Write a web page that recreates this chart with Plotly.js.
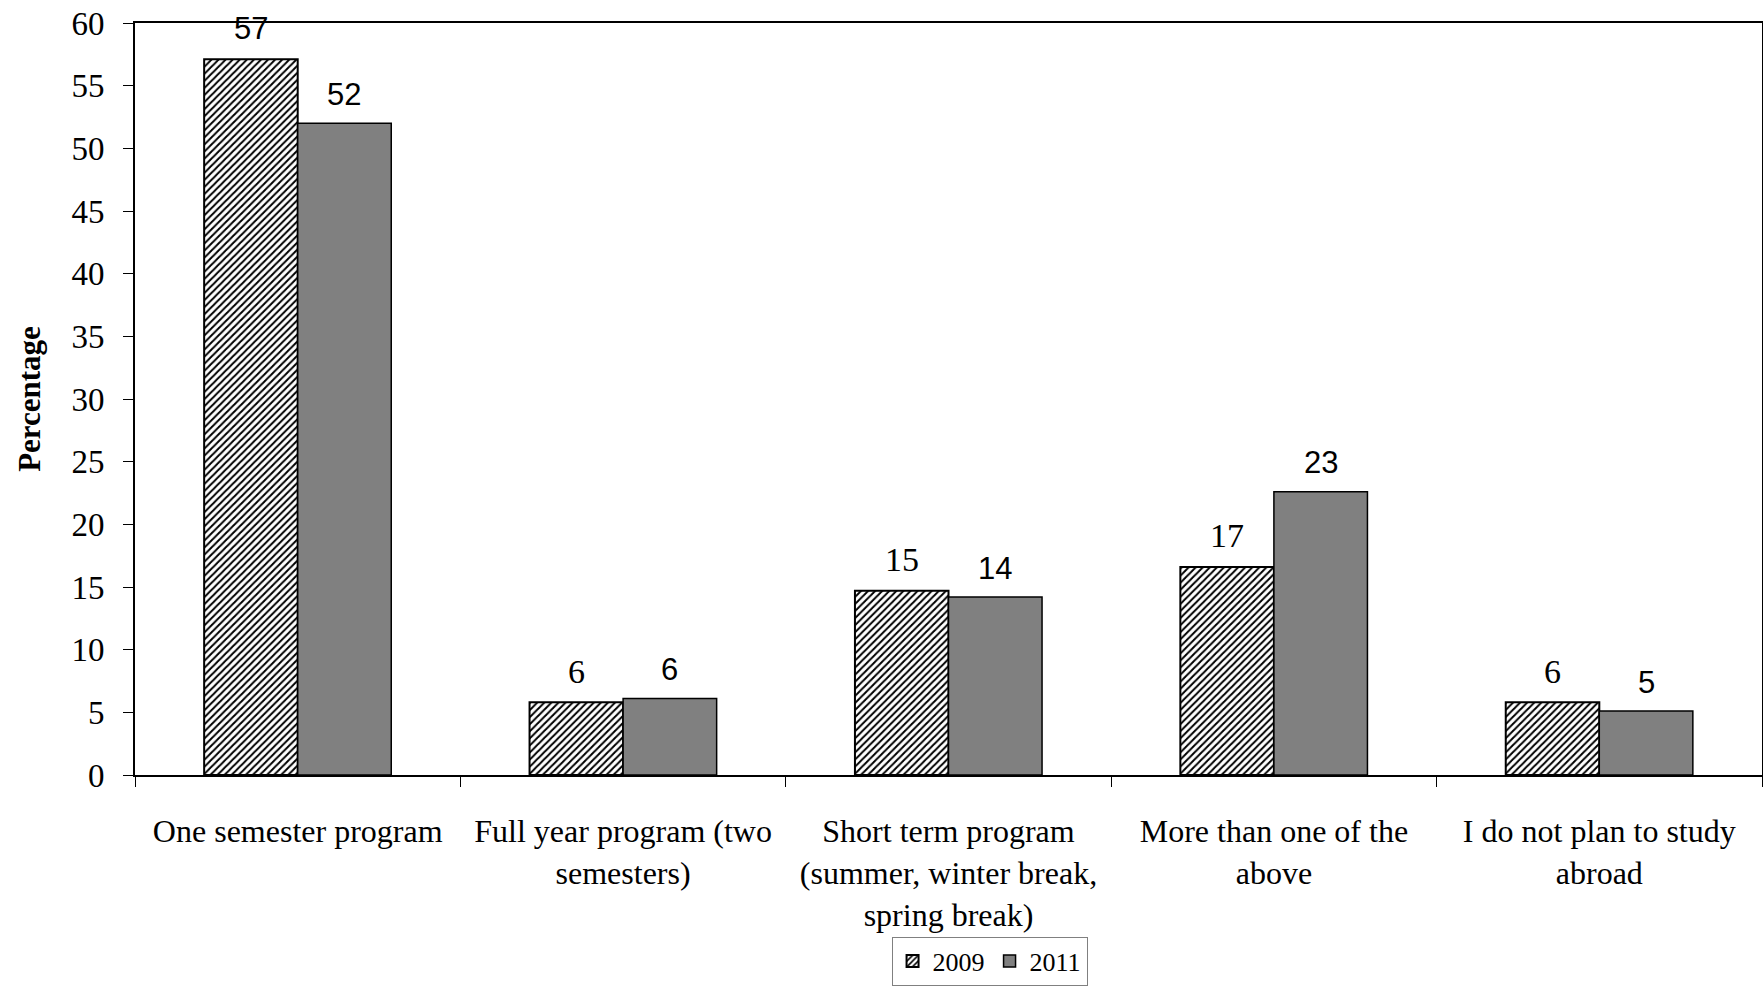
<!DOCTYPE html>
<html>
<head>
<meta charset="utf-8">
<script src="https://cdn.plot.ly/plotly-3.0.1.min.js"></script>
<style>html,body{margin:0;padding:0;background:#fff;}</style>
</head>
<body>
<div id="chart" style="width:1763px;height:987px;"></div>
<script>
const categories = [
  "One semester program",
  "Full year program (two<br>semesters)",
  "Short term program<br>(summer, winter break,<br>spring break)",
  "More than one of the<br>above",
  "I do not plan to study<br>abroad"
];
const values2009 = [57.1, 5.8, 14.7, 16.6, 5.8];
const values2011 = [52.0, 6.1, 14.2, 22.6, 5.1];
const labels2009 = ["57", "6", "15", "17", "6"];
const labels2011 = ["52", "6", "14", "23", "5"];
const yTicks = [0, 5, 10, 15, 20, 25, 30, 35, 40, 45, 50, 55, 60];

const SERIF = "Liberation Serif, DejaVu Serif, serif";
const SANS = "Liberation Sans, Arial, sans-serif";
const label2009Fonts = [SANS, SERIF, SERIF, SERIF, SERIF];

const traces = [
  {
    type: "bar", name: "2009", x: categories, y: values2009,
    marker: {
      color: "#ffffff",
      line: {color: "#000000", width: 2},
      pattern: {shape: "/", fgcolor: "#000000", bgcolor: "#ffffff", size: 5, solidity: 0.4}
    },
    hoverinfo: "none"
  },
  {
    type: "bar", name: "2011", x: categories, y: values2011,
    marker: {color: "#808080", line: {color: "#000000", width: 1.5}},
    hoverinfo: "none"
  }
];

const half = 0.1438;
const annotations = [];
categories.forEach((c, i) => {
  annotations.push({
    x: i - half, y: values2009[i], xref: "x", yref: "y",
    text: labels2009[i], showarrow: false, yanchor: "middle", yshift: 31,
    font: {family: label2009Fonts[i], size: label2009Fonts[i] === SERIF ? 34 : 31, color: "#000"}
  });
  annotations.push({
    x: i + half, y: values2011[i], xref: "x", yref: "y",
    text: labels2011[i], showarrow: false, yanchor: "middle", yshift: 29,
    font: {family: SANS, size: 31, color: "#000"}
  });
});

const layout = {
  width: 1763, height: 987,
  margin: {l: 135, r: 1, t: 23, b: 210},
  paper_bgcolor: "#fff", plot_bgcolor: "#fff",
  barmode: "group", bargap: 0.425, bargroupgap: 0,
  showlegend: true,
  legend: {
    orientation: "h", x: 0.465, xanchor: "left", y: -0.215, yanchor: "top",
    bordercolor: "#808080", borderwidth: 1,
    font: {family: SERIF, size: 26, color: "#000"},
    itemwidth: 30, tracegroupgap: 0
  },
  xaxis: {
    type: "category",
    showline: true, linecolor: "#000", linewidth: 2, mirror: true,
    ticks: "outside", tickson: "boundaries", ticklen: 10, tickcolor: "#000", tickwidth: 1,
    tickfont: {family: SERIF, size: 32, color: "#000"},
    ticklabelstandoff: 27,
    showgrid: false, zeroline: false
  },
  yaxis: {
    range: [0, 60], tickvals: yTicks,
    showline: true, linecolor: "#000", linewidth: 2, mirror: true,
    ticks: "outside", ticklen: 10, tickcolor: "#000", tickwidth: 1,
    tickfont: {family: SERIF, size: 33, color: "#000"},
    ticklabelstandoff: 12,
    showgrid: false, zeroline: false,
    title: {text: "<b>Percentage</b>", font: {family: SERIF, size: 31, color: "#000"}, standoff: 22}
  },
  annotations: annotations
};

Plotly.newPlot("chart", traces, layout, {staticPlot: true});
</script>
</body>
</html>
